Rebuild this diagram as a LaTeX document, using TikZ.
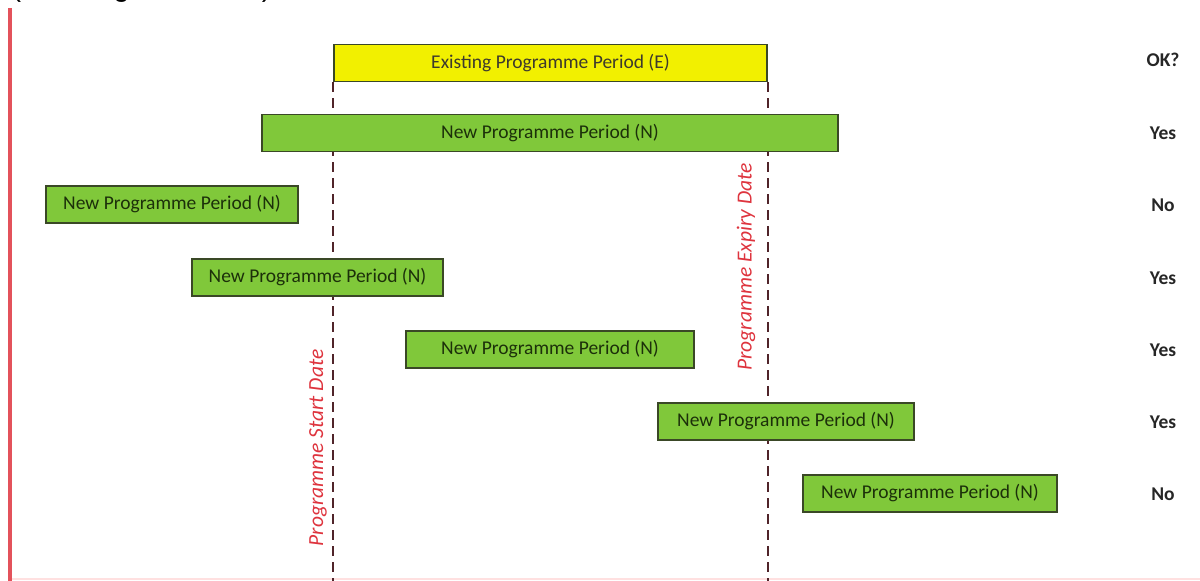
\documentclass[tikz,border=0pt]{standalone}
\usepackage{fontspec}
\setmainfont{Carlito}
\newfontfamily\arialfont{Liberation Sans}
\definecolor{barGreen}{RGB}{128,200,58}
\definecolor{barYellow}{RGB}{242,240,0}
\definecolor{barEdge}{RGB}{58,72,38}
\definecolor{barText}{RGB}{28,48,10}
\definecolor{dateRed}{RGB}{222,52,62}
\definecolor{dashDark}{RGB}{80,36,42}
\begin{document}
\begin{tikzpicture}[x=1pt,y=-1pt]

\tikzset{period/.style={draw=barEdge, line width=1.3, fill=barGreen, text=barText, minimum height=37pt, inner sep=0pt, font=\fontsize{19.5}{22}\selectfont},
existing/.style={period, fill=barYellow, text=black!75!olive},
%answers in the right hand column
answer/.style={font=\fontsize{19.5}{22}\selectfont\bfseries, text=black!85},
datelabel/.style={rotate=90, text=dateRed, font=\fontsize{21.5}{24}\selectfont\itshape},
dateline/.style={dashDark, line width=1.8, dash pattern=on 10pt off 6pt}}

\useasboundingbox (0,0) rectangle (1200,581);

\begin{scope}
\clip (0,0) rectangle (1200,581);

\node [anchor=base west, font=\arialfont\fontsize{28.7}{30}\selectfont] (note) at (8,-4) {(see diagram below)};

\draw [dateRed!85, line width=3.5] (10,8) -- (10,581);
\draw [red!12, line width=2] (12,579) -- (1200,579);

\node [existing, minimum width=433pt] (E) at (550.5,63) {Existing Programme Period (E)};

%date lines go behind the new periods
\coordinate (startEnd) at (E.south west |- 0,581);
\coordinate (expiryEnd) at (E.south east |- 0,581);

\draw [dateline] (E.south west) -- (startEnd);
\draw [dateline] (E.south east) -- (expiryEnd);

\node [period, minimum width=576pt] (N1) at (550,133) {New Programme Period (N)};
\node [period, minimum width=252pt] (N2) at (172,204.5) {New Programme Period (N)};
\node [period, minimum width=251pt] (N3) at (317.5,277.5) {New Programme Period (N)};
\node [period, minimum width=288pt] (N4) at (550,349.5) {New Programme Period (N)};
\node [period, minimum width=256pt] (N5) at (786,421.5) {New Programme Period (N)};
\node [period, minimum width=254pt] (N6) at (930,493.5) {New Programme Period (N)};

\node [datelabel] (startLabel) at (318,448) {Programme Start Date};
\node [datelabel] (expiryLabel) at (746,267) {Programme Expiry Date};

\node [answer] (okHead) at (1163,60) {OK?};
\node [answer] (ok1) at (1163,133) {Yes};
\node [answer] (ok2) at (1163,205) {No};
\node [answer] (ok3) at (1163,278) {Yes};
\node [answer] (ok4) at (1163,350) {Yes};
\node [answer] (ok5) at (1163,422) {Yes};
\node [answer] (ok6) at (1163,494) {No};

\end{scope}

\end{tikzpicture}
\end{document}
